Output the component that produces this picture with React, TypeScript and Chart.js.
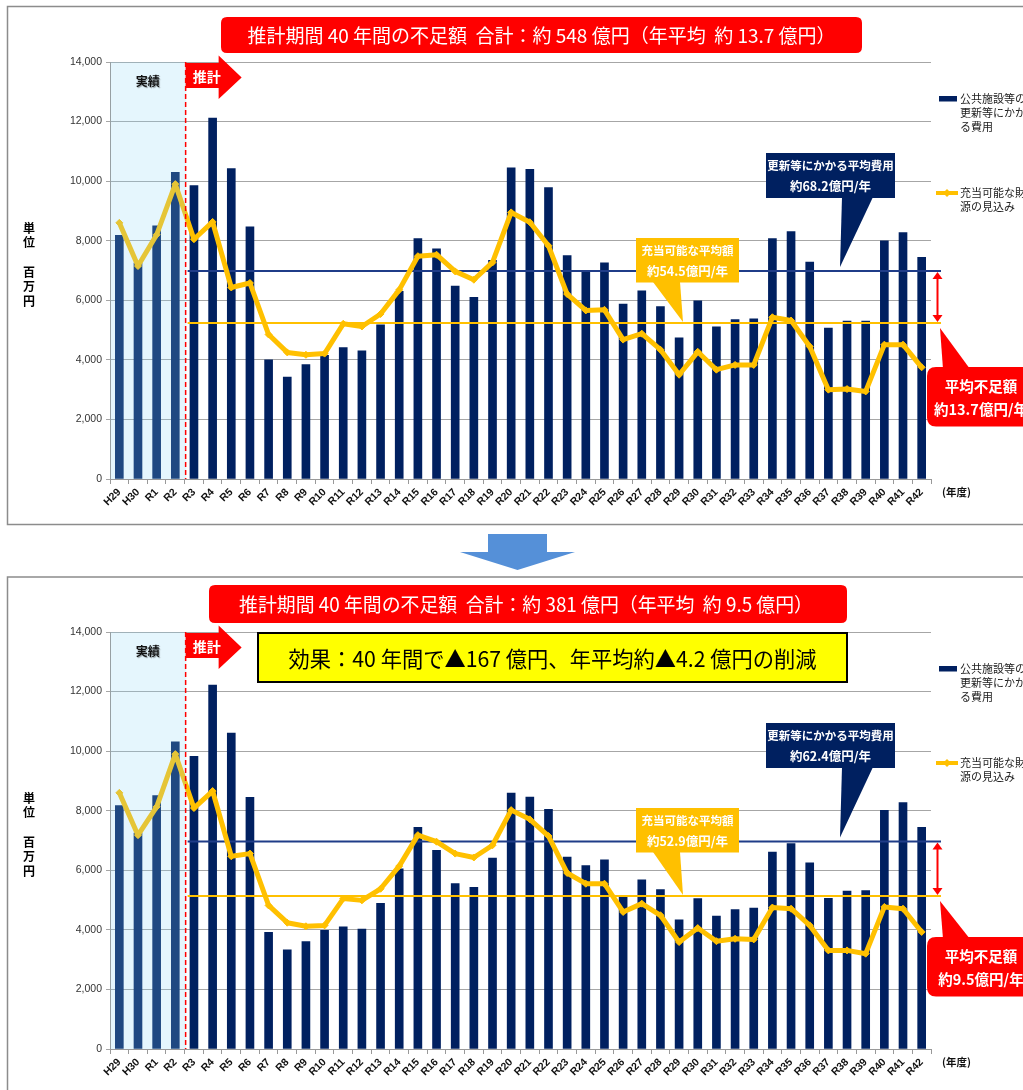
import React, { useEffect, useRef } from 'react';
import { Chart, registerables } from 'chart.js';

Chart.register(...registerables);

// ---------- data ----------
const years = ['H29', 'H30', 'R1', 'R2', 'R3', 'R4', 'R5', 'R6', 'R7', 'R8', 'R9', 'R10', 'R11', 'R12', 'R13', 'R14', 'R15', 'R16', 'R17', 'R18', 'R19', 'R20', 'R21', 'R22', 'R23', 'R24', 'R25', 'R26', 'R27', 'R28', 'R29', 'R30', 'R31', 'R32', 'R33', 'R34', 'R35', 'R36', 'R37', 'R38', 'R39', 'R40', 'R41', 'R42'];

// 更新等にかかる費用（対策前）
const costBefore = [8180, 7250, 8500, 10300, 9850, 12120, 10420, 8470, 4000, 3420, 3840, 4150, 4410, 4300, 5180, 6300, 8070, 7730, 6480, 6100, 7340, 10450, 10400, 9780, 7500, 6980, 7260, 5870, 6320, 5790, 4740, 5980, 5110, 5350, 5380, 8070, 8310, 7280, 5070, 5300, 5300, 8000, 8270, 7440];
// 充当可能な財源の見込み（対策前）
const fundsBefore = [8600, 7150, 8200, 9900, 8050, 8630, 6430, 6580, 4850, 4250, 4170, 4210, 5210, 5120, 5540, 6350, 7480, 7530, 6970, 6690, 7270, 8950, 8620, 7830, 6210, 5660, 5680, 4680, 4880, 4340, 3500, 4270, 3670, 3830, 3830, 5430, 5320, 4450, 3000, 3020, 2940, 4510, 4510, 3750];
// 更新等にかかる費用（対策後）
const costAfter = [8170, 7250, 8510, 10310, 9830, 12220, 10610, 8450, 3920, 3330, 3610, 3980, 4100, 4030, 4890, 6050, 7440, 6670, 5550, 5430, 6410, 8590, 8460, 8050, 6440, 6160, 6350, 5100, 5680, 5350, 4340, 5050, 4460, 4680, 4730, 6610, 6900, 6250, 5060, 5300, 5320, 8010, 8270, 7440];
// 充当可能な財源の見込み（対策後）
const fundsAfter = [8600, 7180, 8130, 9900, 8090, 8660, 6470, 6560, 4820, 4240, 4120, 4150, 5050, 4990, 5380, 6140, 7180, 6960, 6560, 6430, 6840, 8020, 7710, 7150, 5910, 5550, 5550, 4600, 4880, 4490, 3590, 4060, 3620, 3700, 3680, 4750, 4710, 4150, 3310, 3310, 3200, 4770, 4710, 3930];

// 平均線 [対策前, 対策後]
const avgCostLines = [6980, 6970];
const avgFundsLines = [5240, 5140];

const yMin = 0;
const yMax = 14000;
const yStep = 2000;
const actualCount = 4; // H29〜R2 実績

const titleTexts = [
  '推計期間 40 年間の不足額  合計：約 548 億円（年平均  約 13.7 億円）',
  '推計期間 40 年間の不足額  合計：約 381 億円（年平均  約 9.5 億円）',
];
const effectText = '効果：40 年間で▲167 億円、年平均約▲4.2 億円の削減';
const costNotes = [
  ['更新等にかかる平均費用', '約68.2億円/年'],
  ['更新等にかかる平均費用', '約62.4億円/年'],
];
const fundsNotes = [
  ['充当可能な平均額', '約54.5億円/年'],
  ['充当可能な平均額', '約52.9億円/年'],
];
const gapNotes = [
  ['平均不足額', '約13.7億円/年'],
  ['平均不足額', '約9.5億円/年'],
];
const costLegend = ['公共施設等の', '更新等にかか', 'る費用'];
const fundsLegend = ['充当可能な財', '源の見込み'];
const yTitleTop = ['単', '位'];
const yTitleBottom = ['百', '万', '円'];

// ---------- styles ----------
const NAVY = '#002060';
const GOLD = '#ffc000';
const RED = '#ff0000';
const JP = '"Noto Sans CJK JP", "Noto Sans", sans-serif';
const LAT = '"Liberation Sans", Arial, sans-serif';
const W = 1080;

type Spec = {
  idx: number;
  cost: number[];
  funds: number[];
  height: number;
  top: number;
};

function rr(ctx: CanvasRenderingContext2D, x: number, y: number, w: number, h: number, r: number) {
  ctx.beginPath();
  ctx.moveTo(x + r, y);
  ctx.lineTo(x + w - r, y);
  ctx.quadraticCurveTo(x + w, y, x + w, y + r);
  ctx.lineTo(x + w, y + h - r);
  ctx.quadraticCurveTo(x + w, y + h, x + w - r, y + h);
  ctx.lineTo(x + r, y + h);
  ctx.quadraticCurveTo(x, y + h, x, y + h - r);
  ctx.lineTo(x, y + r);
  ctx.quadraticCurveTo(x, y, x + r, y);
  ctx.closePath();
}

function tri(ctx: CanvasRenderingContext2D, pts: number[][]) {
  ctx.beginPath();
  ctx.moveTo(pts[0][0], pts[0][1]);
  for (let i = 1; i < pts.length; i++) ctx.lineTo(pts[i][0], pts[i][1]);
  ctx.closePath();
  ctx.fill();
}

function text(ctx: CanvasRenderingContext2D, s: string, x: number, y: number, font: string, color: string, align: CanvasTextAlign = 'center', maxW?: number) {
  ctx.font = font;
  ctx.fillStyle = color;
  ctx.textAlign = align;
  ctx.textBaseline = 'middle';
  if (maxW) ctx.fillText(s, x, y, maxW);
  else ctx.fillText(s, x, y);
}

function makeAnnot(p: Spec) {
  const i = p.idx;
  return {
    id: 'annot' + i,
    afterDatasetDraw(chart: any, args: any) {
      if (args.meta.type !== 'bar') return;
      const { ctx, chartArea: a, scales } = chart;
      const x = scales.x;
      const y = scales.y;
      const split = (x.getPixelForValue(actualCount - 1) + x.getPixelForValue(actualCount)) / 2;
      const yc = y.getPixelForValue(avgCostLines[i]);
      const yf = y.getPixelForValue(avgFundsLines[i]);
      ctx.save();
      ctx.lineWidth = 2;
      ctx.strokeStyle = '#1f3c88';
      ctx.beginPath();
      ctx.moveTo(split + 3, yc);
      ctx.lineTo(a.right + 10, yc);
      ctx.stroke();
      ctx.strokeStyle = GOLD;
      ctx.beginPath();
      ctx.moveTo(split + 3, yf);
      ctx.lineTo(a.right + 10, yf);
      ctx.stroke();
      ctx.restore();
    },
    afterDatasetsDraw(chart: any) {
      const { ctx, chartArea: a, scales } = chart;
      const x = scales.x;
      const split = (x.getPixelForValue(actualCount - 1) + x.getPixelForValue(actualCount)) / 2 + 1;
      const T = a.top;
      ctx.save();
      // 実績 shading
      ctx.fillStyle = 'rgba(138,215,246,0.224)';
      ctx.fillRect(a.left + 0.5, a.top, split - a.left, a.bottom - a.top);
      // dashed split line
      ctx.strokeStyle = RED;
      ctx.lineWidth = 1.5;
      ctx.setLineDash([5, 3]);
      ctx.beginPath();
      ctx.moveTo(split, a.top);
      ctx.lineTo(split, a.bottom);
      ctx.stroke();
      ctx.setLineDash([]);
      // 実績 label
      ctx.save();
      ctx.shadowColor = 'rgba(0,0,0,0.35)';
      ctx.shadowOffsetX = 1;
      ctx.shadowOffsetY = 1;
      ctx.shadowBlur = 1;
      text(ctx, '実績', (a.left + split) / 2, T + 19, `bold 12px ${JP}`, '#111');
      ctx.restore();
      // 推計 arrow
      ctx.fillStyle = RED;
      const x0 = split;
      tri(ctx, [
        [x0, T + 1], [x0 + 33, T + 1], [x0 + 33, T - 6.5], [x0 + 56, T + 15.5],
        [x0 + 33, T + 37], [x0 + 33, T + 26], [x0, T + 26],
      ]);
      text(ctx, '推計', x0 + 21, T + 15, `bold 14px ${JP}`, '#fff');
      ctx.restore();
    },
    afterDraw(chart: any) {
      const { ctx, chartArea: a, scales } = chart;
      const y = scales.y;
      const T = a.top;
      const yc = y.getPixelForValue(avgCostLines[i]);
      const yf = y.getPixelForValue(avgFundsLines[i]);
      ctx.save();

      // panel border
      ctx.strokeStyle = '#8c8c8c';
      ctx.lineWidth = 1.5;
      if (i === 0) ctx.strokeRect(7.5, 6.5, 2000, 518);
      else ctx.strokeRect(7.5, 7, 2000, 1000);

      // title box
      ctx.fillStyle = RED;
      if (i === 0) {
        rr(ctx, 221, 17, 641, 36, 6);
        ctx.fill();
        text(ctx, titleTexts[0], 541.5, 35.5, `19px ${JP}`, '#fff', 'center', 592);
      } else {
        rr(ctx, 209, 15, 638, 38, 6);
        ctx.fill();
        text(ctx, titleTexts[1], 526, 34.5, `19.5px ${JP}`, '#fff', 'center', 574);
        // effect box
        ctx.fillStyle = '#ffff00';
        ctx.fillRect(258, 63, 589, 49);
        ctx.strokeStyle = '#000';
        ctx.lineWidth = 2;
        ctx.strokeRect(258, 63, 589, 49);
        text(ctx, effectText, 552.5, 88.5, `22px ${JP}`, '#000', 'center', 528);
      }

      // blue callout
      ctx.fillStyle = NAVY;
      ctx.fillRect(766, T + 91, 129, 45);
      tri(ctx, [[842, T + 135], [873, T + 135], [840, yc - 4]]);
      text(ctx, costNotes[i][0], 830.5, T + 104, `bold 11.5px ${JP}`, '#fff', 'center', 127);
      text(ctx, costNotes[i][1], 830.5, T + 124.5, `bold 12.5px ${JP}`, '#fff');

      // yellow callout
      ctx.fillStyle = GOLD;
      ctx.fillRect(636, T + 176, 103, 44.5);
      tri(ctx, [[653, T + 220], [680, T + 220], [683, yf - 1]]);
      text(ctx, fundsNotes[i][0], 687.5, T + 189, `bold 11.5px ${JP}`, '#fff', 'center', 100);
      text(ctx, fundsNotes[i][1], 687.5, T + 209, `bold 12.5px ${JP}`, '#fff');

      // red double arrow
      ctx.strokeStyle = RED;
      ctx.fillStyle = RED;
      ctx.lineWidth = 2;
      const ax = 937.5;
      ctx.beginPath();
      ctx.moveTo(ax, yc + 6);
      ctx.lineTo(ax, yf - 6);
      ctx.stroke();
      tri(ctx, [[ax, yc + 1], [ax - 5, yc + 8], [ax + 5, yc + 8]]);
      tri(ctx, [[ax, yf - 1], [ax - 5, yf - 8], [ax + 5, yf - 8]]);

      // red callout
      ctx.fillStyle = RED;
      tri(ctx, [[940, yf + 5], [943, T + 307], [970, T + 307]]);
      rr(ctx, 927, T + 305, 112, 59.5, 9);
      ctx.fill();
      text(ctx, gapNotes[i][0], 981, T + 324.5, `bold 14.5px ${JP}`, '#fff');
      text(ctx, gapNotes[i][1], 981, T + 347, `bold 14.5px ${JP}`, '#fff');

      // legend
      ctx.fillStyle = NAVY;
      ctx.fillRect(939, T + 34, 18, 5.5);
      costLegend.forEach((s, k) => text(ctx, s, 960, T + 37 + k * 14, `11px ${JP}`, '#222', 'left'));
      ctx.strokeStyle = GOLD;
      ctx.lineWidth = 4;
      ctx.beginPath();
      ctx.moveTo(936, T + 131);
      ctx.lineTo(958, T + 131);
      ctx.stroke();
      ctx.fillStyle = GOLD;
      tri(ctx, [[947, T + 127], [951, T + 131], [947, T + 135], [943, T + 131]]);
      fundsLegend.forEach((s, k) => text(ctx, s, 960, T + 131 + k * 14, `11px ${JP}`, '#222', 'left'));

      // y axis title
      yTitleTop.forEach((s, k) => text(ctx, s, 29, T + 166 + k * 14.5, `bold 12px ${JP}`, '#000'));
      yTitleBottom.forEach((s, k) => text(ctx, s, 29, T + 210 + k * 14.5, `bold 12px ${JP}`, '#000'));

      // (年度)
      text(ctx, '(年度)', 942, a.bottom + 13, `bold 10.5px ${JP}`, '#111', 'left');

      // down arrow between panels
      if (i === 0) {
        ctx.fillStyle = '#5590d8';
        tri(ctx, [[488, 534], [547, 534], [547, 552], [575, 552], [517.5, 570], [460, 552], [488, 552]]);
      }
      ctx.restore();
    },
  };
}

function Panel({ spec }: { spec: Spec }) {
  const ref = useRef<HTMLCanvasElement>(null);
  useEffect(() => {
    const canvas = ref.current;
    if (!canvas) return;
    const chart = new Chart(canvas, {
      type: 'bar',
      data: {
        labels: years,
        datasets: [
          {
            type: 'line',
            label: '充当可能な財源の見込み',
            data: spec.funds,
            borderColor: GOLD,
            backgroundColor: GOLD,
            borderWidth: 5,
            borderJoinStyle: 'round',
            pointStyle: 'rectRot',
            pointRadius: 3.5,
            pointBorderWidth: 1,
            pointBackgroundColor: GOLD,
            pointBorderColor: GOLD,
            tension: 0,
            order: 0,
          } as any,
          {
            type: 'bar',
            label: '公共施設等の更新等にかかる費用',
            data: spec.cost,
            backgroundColor: NAVY,
            barThickness: 8,
            order: 1,
          } as any,
        ],
      },
      options: {
        responsive: false,
        animation: false,
        layout: { padding: { left: 0, right: W - 931, top: 62, bottom: spec.height - 40 - 479 } },
        plugins: {
          legend: { display: false },
          tooltip: { enabled: false },
          title: { display: false },
        },
        scales: {
          x: {
            offset: true,
            grid: { display: true, drawOnChartArea: false, drawTicks: true, tickLength: 5, color: '#999', offset: true },
            border: { color: '#999', width: 1 },
            ticks: {
              autoSkip: false,
              minRotation: 45,
              maxRotation: 45,
              padding: 2,
              color: '#111',
              font: { family: LAT, size: 10.5, weight: 'bold' },
            },
            afterFit: (s: any) => { s.height = 40; },
          },
          y: {
            min: yMin,
            max: yMax,
            ticks: {
              stepSize: yStep,
              padding: 4,
              color: '#333',
              font: { family: LAT, size: 10.5 },
              callback: (v: any) => Number(v).toLocaleString('en-US'),
            },
            grid: { color: '#a6a6a6', lineWidth: 1, drawTicks: true, tickLength: 4 },
            border: { color: '#999', width: 1 },
            afterFit: (s: any) => { s.width = 110; },
          },
        },
      } as any,
      plugins: [makeAnnot(spec)],
    });
    return () => chart.destroy();
  }, [spec]);
  return (
    <canvas
      ref={ref}
      width={W}
      height={spec.height}
      style={{ position: 'absolute', left: 0, top: spec.top, width: W, height: spec.height, display: 'block' }}
    />
  );
}

const before: Spec = { idx: 0, cost: costBefore, funds: fundsBefore, height: 575, top: 0 };
const after: Spec = { idx: 1, cost: costAfter, funds: fundsAfter, height: 525, top: 570 };

export default function App() {
  return (
    <div style={{ position: 'fixed', left: 0, top: 0, width: 1023, height: 1090, overflow: 'hidden', background: '#fff' }}>
      <Panel spec={before} />
      <Panel spec={after} />
    </div>
  );
}
